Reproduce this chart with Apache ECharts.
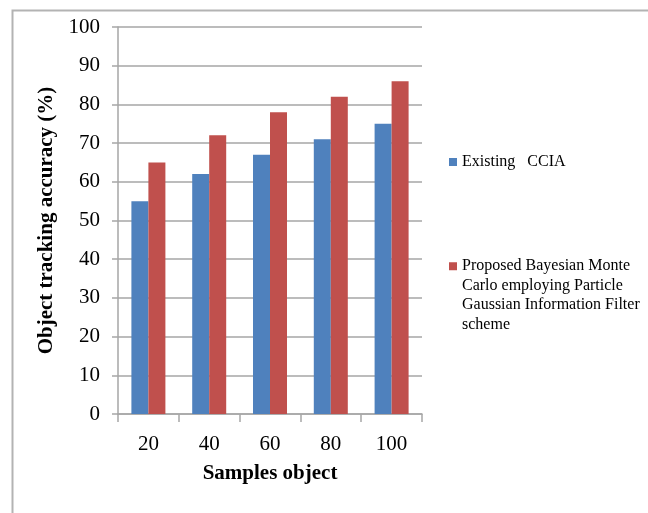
<!DOCTYPE html>
<html>
<head>
<meta charset="utf-8">
<script src="https://cdn.jsdelivr.net/npm/echarts@6/dist/echarts.min.js"></script>
<style>
  html, body { margin: 0; padding: 0; background: #fff; }
  #chart { width: 648px; height: 513px; }
</style>
</head>
<body>
<div id="chart"></div>
<script>
const categories = ['20', '40', '60', '80', '100']
const existingCcia = [55, 62, 67, 71, 75]
const proposedBmc = [65, 72, 78, 82, 86]
const seriesNames = [
  'Existing   CCIA',
  'Proposed Bayesian Monte\nCarlo employing Particle\nGaussian Information Filter\nscheme',
]

const serif = '"Liberation Serif", "DejaVu Serif", serif'
const axisGrey = '#a6a6a6'

const chart = echarts.init(document.getElementById('chart'))

chart.setOption({
  animation: false,
  textStyle: { fontFamily: serif },
  graphic: [
    {
      type: 'rect',
      left: 10,
      top: 8,
      shape: { width: 700, height: 600 },
      style: { fill: 'none', stroke: '#b3b3b3', lineWidth: 2 },
    },
  ],
  legend: [
    {
      data: [seriesNames[0]],
      left: 444,
      top: 149,
      itemWidth: 8,
      itemHeight: 8,
      icon: 'rect',
      textStyle: { fontFamily: serif, fontSize: 16, color: '#000' },
    },
    {
      data: [seriesNames[1]],
      left: 444,
      top: 193,
      itemWidth: 8,
      itemHeight: 8,
      icon: 'rect',
      // blank lines above so the square lines up with the first text line
      formatter: (name) => '\n\n\n' + name,
      textStyle: {
        fontFamily: serif,
        fontSize: 16,
        color: '#000',
        lineHeight: 19.5,
      },
    },
  ],
  grid: { left: 118, right: 226, top: 27, bottom: 99 },
  xAxis: {
    type: 'category',
    data: categories,
    name: 'Samples object',
    nameLocation: 'middle',
    nameGap: 49,
    nameTextStyle: { fontFamily: serif, fontSize: 21, fontWeight: 'bold', color: '#000' },
    axisLine: { lineStyle: { color: axisGrey, width: 1.5 } },
    axisTick: { show: true, length: 8, lineStyle: { color: axisGrey, width: 1.5 } },
    axisLabel: { fontFamily: serif, fontSize: 21, color: '#000', margin: 20 },
  },
  yAxis: {
    type: 'value',
    min: 0,
    max: 100,
    interval: 10,
    name: 'Object tracking accuracy (%)',
    nameLocation: 'middle',
    nameGap: 61,
    nameTextStyle: { fontFamily: serif, fontSize: 21, fontWeight: 'bold', color: '#000' },
    axisLine: { show: true, lineStyle: { color: axisGrey, width: 1.5 } },
    axisTick: { show: true, length: 6, lineStyle: { color: axisGrey, width: 1.5 } },
    axisLabel: { fontFamily: serif, fontSize: 21, color: '#000', margin: 18 },
    splitLine: { lineStyle: { color: axisGrey, width: 1.5 } },
  },
  series: [
    {
      name: seriesNames[0],
      type: 'bar',
      data: existingCcia,
      barWidth: 17,
      barGap: '0%',
      itemStyle: { color: '#4f81bd' },
    },
    {
      name: seriesNames[1],
      type: 'bar',
      data: proposedBmc,
      barWidth: 17,
      barGap: '0%',
      itemStyle: { color: '#c0504d' },
    },
  ],
})
</script>
</body>
</html>
